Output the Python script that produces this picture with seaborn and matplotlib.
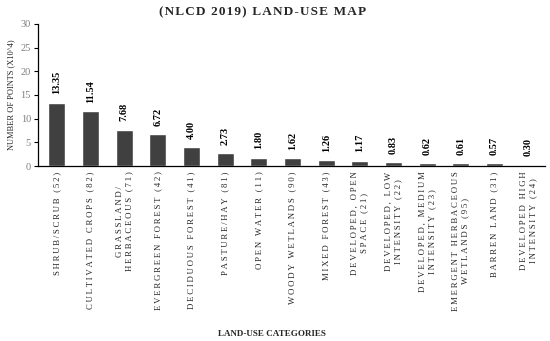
import matplotlib
matplotlib.use("Agg")
import matplotlib.pyplot as plt
import pandas as pd
import seaborn as sns

categories = [
    "SHRUB/SCRUB (52)", "CULTIVATED CROPS (82)", "GRASSLAND/\nHERBACEOUS (71)",
    "EVERGREEN FOREST (42)", "DECIDUOUS FOREST (41)", "PASTURE/HAY (81)",
    "OPEN WATER (11)", "WOODY WETLANDS (90)", "MIXED FOREST (43)",
    "DEVELOPED, OPEN\nSPACE (21)", "DEVELOPED, LOW\nINTENSITY (22)",
    "DEVELOPED, MEDIUM\nINTENSITY (23)", "EMERGENT HERBACEOUS\nWETLANDS (95)",
    "BARREN LAND (31)", "DEVELOPED HIGH\nINTENSITY (24)",
]
points = [13.35, 11.54, 7.68, 6.72, 4.00, 2.73, 1.80, 1.62, 1.26, 1.17,
          0.83, 0.62, 0.61, 0.57, 0.30]
y_ticks = [0, 5, 10, 15, 20, 25, 30]

HS = "\u2009"  # thin space for letter spacing


def spaced(s, sep=HS):
    return "\n".join(sep.join(line) for line in s.split("\n"))


df = pd.DataFrame({"cat": categories, "val": points})

sns.set_style("white")
plt.rcParams["font.family"] = ["Liberation Serif", "DejaVu Serif"]

fig = plt.figure(figsize=(5.5, 3.41), dpi=100)
ax = fig.add_axes([0.069, 0.513, 0.922, 0.417])

sns.barplot(data=df, x="cat", y="val", color="#404040", width=0.5,
            saturation=1, ax=ax)

for i, v in enumerate(points):
    ax.text(i, v + 1.8, f"{v:.2f}", rotation=90, ha="center", va="bottom",
            fontsize=7.5, fontweight="bold", color="black")

ax.set_xlim(-0.56, 14.5)
ax.set_ylim(0, 30)
ax.set_yticks(y_ticks)
ax.set_yticklabels([str(t) for t in y_ticks], fontsize=7.5, color="#7f7f7f")
ax.tick_params(axis="y", length=3, width=0.8, color="black", pad=2, left=True)
ax.tick_params(axis="x", length=0, pad=4)
ax.set_xticks(range(len(categories)))
ax.set_xticklabels([spaced(c) for c in categories], rotation=90, fontsize=6.3,
                   ha="center", va="top", multialignment="center")

for side in ["top", "right"]:
    ax.spines[side].set_visible(False)
for side in ["left", "bottom"]:
    ax.spines[side].set_color("black")
    ax.spines[side].set_linewidth(0.9)

ax.set_xlabel("")
ax.set_ylabel("NUMBER OF POINTS (X10^4)", fontsize=6, labelpad=4)

fig.text(0.477, 0.965, spaced("(NLCD 2019) LAND-USE MAP", "\u200a"),
         ha="center", va="center", fontsize=9.5, fontweight="bold")
fig.text(0.495, 0.02, "LAND-USE CATEGORIES", ha="center", va="center",
         fontsize=6.5, fontweight="bold")

fig.savefig("out.png", dpi=100)
